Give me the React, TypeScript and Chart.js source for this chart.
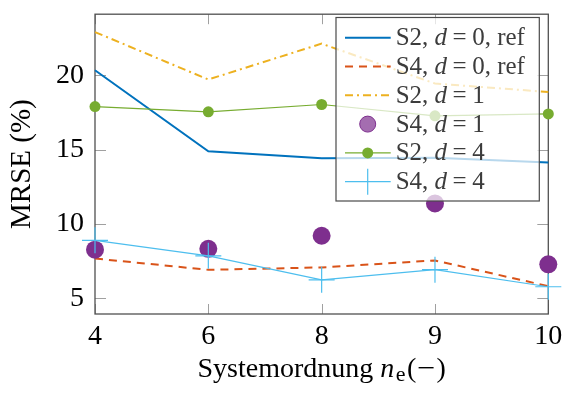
import React, { useEffect, useRef } from "react";
import { Chart, registerables } from "chart.js";

Chart.register(...registerables);

const categories = ["4", "6", "8", "9", "10"];
const s2d0ref = [20.33, 14.89, 14.42, 14.45, 14.13];
const s4d0ref = [7.68, 6.92, 7.08, 7.55, 5.82];
const s2d1 = [22.9, 19.71, 22.12, 19.44, 18.87];
const s4d1 = [8.27, 8.33, 9.21, 11.38, 7.29];
const s2d4 = [17.89, 17.54, 18.03, 17.27, 17.4];
const s4d4 = [8.9, 7.86, 6.25, 6.93, 5.78];
const yTicks = [5, 10, 15, 20];
const yMin = 3.95;
const yMax = 24.1;
const legendNames = ["S2", "S4", "S2", "S4", "S2", "S4"];
const legendD = ["0, ref", "0, ref", "1", "1", "4", "4"];
const xTitleMain = "Systemordnung ";
const yTitle = "MRSE (%)";

const SERIF = "'Liberation Serif', 'Times New Roman', serif";

const datasets = [
  {
    data: s2d0ref,
    borderColor: "#0072BD",
    backgroundColor: "#0072BD",
    borderWidth: 2,
    pointRadius: 0,
  },
  {
    data: s4d0ref,
    borderColor: "#D95319",
    backgroundColor: "#D95319",
    borderWidth: 2,
    borderDash: [8, 6],
    pointRadius: 0,
  },
  {
    data: s2d1,
    borderColor: "#EDB120",
    backgroundColor: "#EDB120",
    borderWidth: 2,
    borderDash: [8, 4, 2, 4],
    pointRadius: 0,
  },
  {
    data: s4d1,
    borderColor: "#7E2F8E",
    backgroundColor: "#7E2F8E",
    showLine: false,
    pointRadius: 9,
    pointBorderWidth: 0,
    pointBackgroundColor: "#7E2F8E",
  },
  {
    data: s2d4,
    borderColor: "#77AC30",
    backgroundColor: "#77AC30",
    borderWidth: 1.2,
    pointRadius: 5.5,
    pointBorderWidth: 0,
    pointBackgroundColor: "#77AC30",
  },
  {
    data: s4d4,
    borderColor: "#4DBEEE",
    backgroundColor: "#4DBEEE",
    borderWidth: 1.2,
    pointStyle: "cross",
    pointRadius: 13,
    pointBorderWidth: 1.2,
    pointBorderColor: "#4DBEEE",
  },
].map((d, i) => ({
  label: legendNames[i] + ", d = " + legendD[i],
  fill: false,
  tension: 0,
  clip: false as any,
  order: 10 - i,
  ...d,
}));

const decor = {
  id: "decor",
  beforeDatasetsDraw(chart: any) {
    const { ctx, chartArea: a, scales } = chart;
    const xs = scales.x;
    const ys = scales.y;
    ctx.save();
    ctx.strokeStyle = "#a0a0a0";
    ctx.lineWidth = 1;
    const seg = (x1: number, y1: number, x2: number, y2: number) => {
      ctx.beginPath();
      ctx.moveTo(x1, y1);
      ctx.lineTo(x2, y2);
      ctx.stroke();
    };
    xs.ticks.forEach((_: any, i: number) => {
      const px = Math.round(xs.getPixelForTick(i)) + 0.5;
      seg(px, a.bottom, px, a.bottom - 10);
      seg(px, a.top, px, a.top + 10);
    });
    ys.ticks.forEach((_: any, i: number) => {
      const py = Math.round(ys.getPixelForTick(i)) + 0.5;
      seg(a.left, py, a.left + 11, py);
      seg(a.right, py, a.right - 11, py);
    });
    ctx.strokeStyle = "#505050";
    ctx.lineWidth = 1.3;
    ctx.strokeRect(a.left, a.top, a.right - a.left, a.bottom - a.top);
    ctx.restore();
  },
  afterDraw(chart: any) {
    const { ctx, chartArea: a } = chart;
    ctx.save();
    // axis titles
    ctx.fillStyle = "#000";
    ctx.textBaseline = "alphabetic";
    const fN = `28px ${SERIF}`;
    const fI = `italic 28px ${SERIF}`;
    const fS = `22px ${SERIF}`;
    const minusScale = 1.15;
    ctx.font = fN;
    const w1 = ctx.measureText(xTitleMain).width;
    const wl = ctx.measureText("(").width;
    const wm = ctx.measureText("\u2212").width * minusScale;
    const wr = ctx.measureText(")").width;
    ctx.font = fI;
    const w2 = ctx.measureText("n").width;
    ctx.font = fS;
    const w3 = ctx.measureText("e").width;
    const gap = 1.5;
    const total = w1 + w2 + gap + w3 + gap + wl + 1 + wm + 1 + wr;
    let x = (a.left + a.right) / 2 - total / 2;
    const by = 376.5;
    ctx.textAlign = "left";
    ctx.font = fN;
    ctx.fillText(xTitleMain, x, by);
    x += w1;
    ctx.font = fI;
    ctx.fillText("n", x, by);
    x += w2 + gap;
    ctx.font = fS;
    ctx.fillText("e", x, by + 4);
    x += w3 + gap;
    ctx.font = fN;
    ctx.fillText("(", x, by);
    x += wl + 1;
    ctx.save();
    ctx.translate(x, by);
    ctx.scale(minusScale, 1);
    ctx.fillText("\u2212", 0, 0);
    ctx.restore();
    x += wm + 1;
    ctx.fillText(")", x, by);

    ctx.save();
    ctx.translate(29.5, (a.top + a.bottom) / 2);
    ctx.rotate(-Math.PI / 2);
    ctx.textAlign = "center";
    ctx.font = `29px ${SERIF}`;
    ctx.fillText(yTitle, 0, 0);
    ctx.restore();

    // legend
    const L = 336, T = 17.5, R = 539.3, B = 201;
    ctx.fillStyle = "rgba(255,255,255,0.72)";
    ctx.fillRect(L, T, R - L, B - T);
    ctx.strokeStyle = "#4a4a4a";
    ctx.lineWidth = 1.2;
    ctx.strokeRect(L, T, R - L, B - T);
    const sx1 = 345, sx2 = 390.7, mx = 367.7, tx = 395.7;
    const lf = `25px ${SERIF}`;
    const lfi = `italic 25px ${SERIF}`;
    datasets.forEach((ds: any, i: number) => {
      const ry = 37.7 + i * 28.8;
      ctx.save();
      if (ds.showLine !== false) {
        ctx.strokeStyle = ds.borderColor;
        ctx.lineWidth = ds.borderWidth;
        ctx.setLineDash(ds.borderDash || []);
        ctx.beginPath();
        ctx.moveTo(sx1, ry);
        ctx.lineTo(sx2, ry);
        ctx.stroke();
        ctx.setLineDash([]);
      }
      if (ds.pointStyle === "cross") {
        ctx.strokeStyle = ds.borderColor;
        ctx.lineWidth = 1.2;
        ctx.beginPath();
        ctx.moveTo(mx, ry - 13);
        ctx.lineTo(mx, ry + 13);
        ctx.stroke();
      } else if (ds.pointRadius > 0) {
        ctx.beginPath();
        ctx.arc(mx, ry, ds.pointRadius - (ds.showLine === false ? 1 : 0), 0, Math.PI * 2);
        ctx.globalAlpha = ds.showLine === false ? 0.7 : 1;
        ctx.fillStyle = ds.pointBackgroundColor;
        ctx.fill();
        ctx.globalAlpha = 1;
        if (ds.showLine === false) {
          ctx.strokeStyle = ds.pointBackgroundColor;
          ctx.lineWidth = 1;
          ctx.stroke();
        }
      }
      ctx.restore();
      ctx.fillStyle = "#3c3c3c";
      ctx.textAlign = "left";
      ctx.textBaseline = "alphabetic";
      const base = ry + 7.5;
      let lx = tx;
      ctx.font = lf;
      const p1 = legendNames[i] + ", ";
      ctx.fillText(p1, lx, base);
      lx += ctx.measureText(p1).width;
      ctx.font = lfi;
      ctx.fillText("d", lx, base);
      lx += ctx.measureText("d").width + 5.5;
      ctx.font = lf;
      ctx.fillText("=", lx, base);
      lx += ctx.measureText("=").width + 5.5;
      ctx.fillText(legendD[i], lx, base);
    });
    ctx.restore();
  },
};

export default function App() {
  const ref = useRef<HTMLCanvasElement>(null);
  useEffect(() => {
    const chart = new Chart(ref.current as HTMLCanvasElement, {
      type: "line",
      data: { labels: categories, datasets: datasets as any },
      options: {
        responsive: false,
        animation: false,
        devicePixelRatio: 1,
        layout: { padding: { left: 0, right: 14.7, top: 11.7, bottom: 0 } },
        plugins: {
          legend: { display: false },
          tooltip: { enabled: false },
          title: { display: false },
        },
        scales: {
          x: {
            type: "category",
            offset: false,
            grid: { display: false, drawTicks: false },
            border: { display: false },
            ticks: {
              color: "#000",
              font: { family: SERIF, size: 28 },
              padding: 6,
              maxRotation: 0,
              autoSkip: false,
            },
            afterFit: (s: any) => {
              s.height = 80;
              s.paddingLeft = 0;
              s.paddingRight = 0;
            },
          },
          y: {
            type: "linear",
            min: yMin,
            max: yMax,
            grid: { display: false, drawTicks: false },
            border: { display: false },
            ticks: {
              color: "#000",
              font: { family: SERIF, size: 28 },
              padding: 11,
            },
            afterBuildTicks: (s: any) => {
              s.ticks = yTicks.map((v) => ({ value: v }));
            },
            afterFit: (s: any) => {
              s.width = 95;
              s.paddingTop = 0;
              s.paddingBottom = 0;
            },
          },
        },
      } as any,
      plugins: [decor],
    });
    return () => chart.destroy();
  }, []);
  return (
    <div style={{ position: "absolute", left: 0, top: 0, width: 563, height: 394 }}>
      <canvas ref={ref} width={563} height={394} style={{ display: "block" }} />
    </div>
  );
}
